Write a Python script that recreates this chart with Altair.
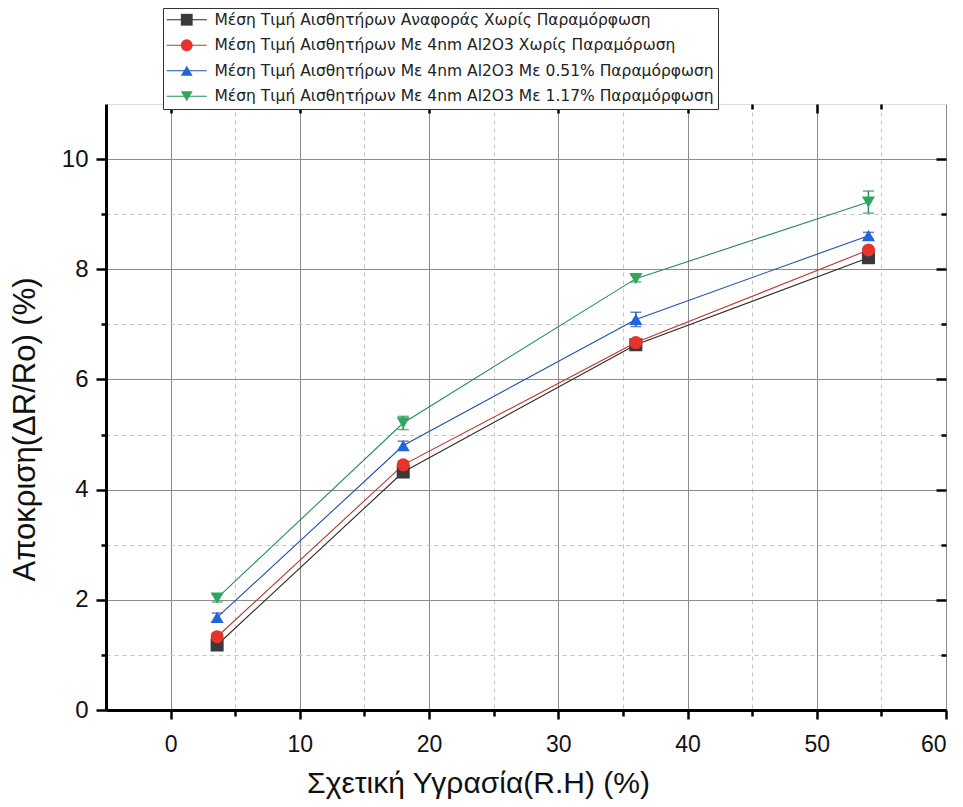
import altair as alt
import pandas as pd

# ---- data ----
rh = [3.6, 18, 36, 54]
series_names = [
    "Μέση Τιμή Αισθητήρων Αναφοράς Χωρίς Παραμόρφωση",
    "Μέση Τιμή Αισθητήρων Με 4nm Al2O3 Χωρίς Παραμόρωση",
    "Μέση Τιμή Αισθητήρων Με 4nm Al2O3 Με 0.51% Παραμόρφωση",
    "Μέση Τιμή Αισθητήρων Με 4nm Al2O3 Με 1.17% Παραμόρφωση",
]
ref_mean = [1.18, 4.32, 6.63, 8.21]
al_0_mean = [1.33, 4.45, 6.67, 8.35]
al_051_mean = [1.68, 4.80, 7.09, 8.61]
al_117_mean = [2.03, 5.21, 7.83, 9.22]
ref_err = [0.05, 0.06, 0.06, 0.05]
al_0_err = [0.06, 0.07, 0.06, 0.06]
al_051_err = [0.08, 0.08, 0.13, 0.06]
al_117_err = [0.07, 0.12, 0.06, 0.20]

marker_colors = ["#3a3a3a", "#e8322c", "#1f66d8", "#2ea65d"]
line_colors = ["#2a2a2a", "#b23a30", "#1f4fa8", "#2a8a5a"]
shapes = ["square", "circle", "triangle-up", "triangle-down"]

x_ticks = [0, 5, 10, 15, 20, 25, 30, 35, 40, 45, 50, 55, 60]
y_ticks = [0, 1, 2, 3, 4, 5, 6, 7, 8, 9, 10]

# line legend uses its own (distinct) domain so it is not merged with the marker legend
line_names = [n + " " for n in series_names]

rows = []
for name, lname, m, e in zip(series_names, line_names,
                             [ref_mean, al_0_mean, al_051_mean, al_117_mean],
                             [ref_err, al_0_err, al_051_err, al_117_err]):
    for xv, mv, ev in zip(rh, m, e):
        rows.append({"rh": xv, "val": mv, "lo": mv - ev, "hi": mv + ev,
                     "series": name, "series_line": lname})
df = pd.DataFrame(rows)

FONT = "Liberation Sans"
xs = alt.Scale(domain=[-5, 60], nice=False, zero=False)
ys = alt.Scale(domain=[0, 11], nice=False, zero=False)

x_axis = alt.Axis(
    values=x_ticks, title="Σχετική Υγρασία(R.H) (%)",
    labelExpr="datum.value % 10 == 0 ? datum.label : ''",
    tickSize={"condition": {"test": "datum.value % 10 == 0", "value": 9}, "value": 6},
    tickColor="black", tickWidth=2.5, domainColor="black", domainWidth=3,
    labelFontSize=23, labelPadding=14, labelColor="#111", labelFont=FONT,
    titleFontSize=30, titlePadding=12, titleFont=FONT, titleFontWeight="normal",
    titleColor="#111", titleX=372,
    grid=True,
    gridColor={"condition": {"test": "datum.value % 10 == 0", "value": "#8c8c8c"}, "value": "#c4c4c4"},
    gridDash={"condition": {"test": "datum.value % 10 == 0", "value": []}, "value": [4, 4]},
    gridWidth=1,
)
y_axis = alt.Axis(
    values=y_ticks, title="Αποκριση(ΔR/Ro) (%)",
    labelExpr="datum.value % 2 == 0 ? datum.label : ''",
    tickSize={"condition": {"test": "datum.value % 2 == 0", "value": 10}, "value": 5},
    tickColor="black", tickWidth=2.5, domainColor="black", domainWidth=3,
    labelFontSize=24, labelPadding=8, labelColor="#111", labelFont=FONT,
    titleFontSize=31, titlePadding=20, titleFont=FONT, titleFontWeight="normal",
    titleColor="#111", titleY=325,
    grid=True,
    gridColor={"condition": {"test": "datum.value % 2 == 0", "value": "#8c8c8c"}, "value": "#c4c4c4"},
    gridDash={"condition": {"test": "datum.value % 2 == 0", "value": []}, "value": [4, 4]},
    gridWidth=1,
)

LX, LY = 57, -96
line_legend = alt.Legend(
    title=None, orient="none", legendX=LX, legendY=LY,
    symbolType="M-4,0H4", symbolSize=100, symbolStrokeWidth=1.2,
    symbolOffset=12, labelOffset=20, labelFont="DejaVu Sans", labelFontSize=15.5,
    labelLimit=800, padding=4, rowPadding=8.5, fillColor="white",
    strokeColor="#333", labelColor="#222",
)
marker_legend = alt.Legend(
    title=None, orient="none", legendX=LX, legendY=LY,
    symbolSize=140, symbolStrokeWidth=0,
    symbolOffset=12, labelOffset=20, labelFont="DejaVu Sans", labelFontSize=15.5,
    labelLimit=800, padding=4, rowPadding=8.5, labelOpacity=0,
)

base = alt.Chart(df)

lines = base.mark_line(strokeWidth=1.1).encode(
    x=alt.X("rh:Q", scale=xs, axis=x_axis),
    y=alt.Y("val:Q", scale=ys, axis=y_axis),
    color=alt.Color("series_line:N",
                    scale=alt.Scale(domain=line_names, range=line_colors),
                    legend=line_legend),
    detail="series_line:N",
)

errs = base.mark_errorbar(ticks={"size": 11, "thickness": 1.5}, thickness=1.5).encode(
    x=alt.X("rh:Q", scale=xs, axis=None),
    y=alt.Y("lo:Q", scale=ys, axis=None),
    y2="hi:Q",
    color=alt.Color("series_line:N", legend=None),
)

points = base.mark_point(filled=True, opacity=1, size=170).encode(
    x=alt.X("rh:Q", scale=xs, axis=None),
    y=alt.Y("val:Q", scale=ys, axis=None),
    fill=alt.Fill("series:N",
                  scale=alt.Scale(domain=series_names, range=marker_colors),
                  legend=marker_legend),
    shape=alt.Shape("series:N",
                    scale=alt.Scale(domain=series_names, range=shapes),
                    legend=marker_legend),
)

# frame axes (top/right) with inward ticks
frame_major = base.mark_point(opacity=0).encode(
    x=alt.X("rh:Q", scale=xs, axis=alt.Axis(
        orient="top", values=[0, 10, 20, 30, 40, 50], labels=False, domain=False,
        grid=False, title=None, tickSize=9, offset=-9, tickColor="black", tickWidth=2.5)),
    y=alt.Y("val:Q", scale=ys, axis=alt.Axis(
        orient="right", values=[0, 2, 4, 6, 8, 10], labels=False, domain=False,
        grid=False, title=None, tickSize=10, offset=-10, tickColor="black", tickWidth=2.5)),
)
frame_minor = base.mark_point(opacity=0).encode(
    x=alt.X("rh:Q", scale=xs, axis=alt.Axis(
        orient="top", values=[5, 15, 25, 35, 45, 55], labels=False, domain=False,
        grid=False, title=None, tickSize=5, offset=-5, tickColor="black", tickWidth=2.5)),
    y=alt.Y("val:Q", scale=ys, axis=alt.Axis(
        orient="right", values=[1, 3, 5, 7, 9], labels=False, domain=False,
        grid=False, title=None, tickSize=5, offset=-5, tickColor="black", tickWidth=2.5)),
)

chart = alt.layer(lines, errs, points, frame_major, frame_minor).resolve_axis(
    x="independent", y="independent"
).properties(
    width=840, height=606,
    autosize=alt.AutoSizeParams(type="none"),
    padding={"left": 98, "top": 96, "right": 9, "bottom": 93},
).configure_view(
    stroke="#1a1a1a", strokeWidth=2
).configure(background="white")

chart.save("out.html", embed_options={"renderer": "svg", "actions": False})
